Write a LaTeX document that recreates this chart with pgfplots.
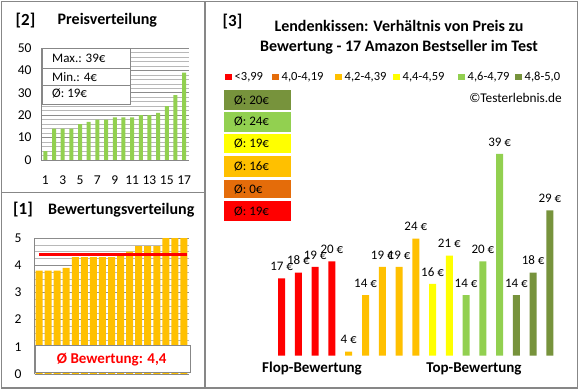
\documentclass[border=0pt]{standalone}
\usepackage{fontspec}
\setmainfont{Carlito}
\usepackage{pgfplots}
\pgfplotsset{compat=1.18}
\definecolor{cRed}{HTML}{FF0000}
\definecolor{cDOrange}{HTML}{E46C0A}
\definecolor{cOrange}{HTML}{FFC000}
\definecolor{cYellow}{HTML}{FFFF00}
\definecolor{cGreen}{HTML}{92D050}
\definecolor{cOlive}{HTML}{77933C}
\definecolor{frame}{HTML}{878787}
\definecolor{gmaj}{HTML}{8C8C8C}
\definecolor{gmin}{HTML}{B8B8B8}
\begin{document}
\begin{tikzpicture}[x=1pt,y=1pt]
\useasboundingbox (0,0) rectangle (580,390);
\fill[white] (0,0) rectangle (580,390);
% ---------- panel [2]
\node[inner sep=0, anchor=west, font=\fontsize{17}{20}\selectfont\bfseries] at (15.5,369.3) {[2]};
\node[inner sep=0, anchor=west, font=\fontsize{16}{19}\selectfont\bfseries] at (57.5,369.3) {Preisverteilung};
\begin{axis}[at={(41pt,230pt)}, anchor=south west, scale only axis,
  width=147.5pt, height=112pt,
  xmin=0.5, xmax=17.5, ymin=0, ymax=50,
  xtick={1,3,...,17}, ytick={0,10,...,50}, minor y tick num=4,
  ymajorgrids, yminorgrids,
  major grid style={gmaj, line width=0.6pt},
  minor grid style={gmin, line width=0.6pt},
  axis x line*=bottom, axis y line*=left,
  axis line style={frame, -},
  major tick length=0pt, minor tick length=0pt,
  /pgf/number format/assume math mode=true,
  tick label style={font=\fontsize{13.5}{15}\selectfont},
  xticklabel style={yshift=-12pt},
  yticklabel style={xshift=-6pt}]
\addplot[ybar, bar width=4pt, bar shift=0pt, fill=cGreen, draw=none] coordinates {
(1,4) (2,14) (3,14) (4,14) (5,16) (6,17) (7,18) (8,18) (9,19) (10,19) (11,19) (12,20) (13,20) (14,21) (15,24) (16,29) (17,39)};
\end{axis}
\draw[frame, fill=white, line width=0.8pt] (42,341.3) rectangle (130,286);
\draw[frame, line width=0.8pt] (42,322) -- (130,322);
\draw[frame, line width=0.8pt] (42,305) -- (130,305);
\node[inner sep=0, anchor=west, font=\fontsize{13}{15}\selectfont] at (52,332) {Max.: 39€};
\node[inner sep=0, anchor=west, font=\fontsize{13}{15}\selectfont] at (52,313) {Min.: 4€};
\node[inner sep=0, anchor=west, font=\fontsize{13}{15}\selectfont] at (52,296.3) {Ø: 19€};
% ---------- panel [1]
\node[inner sep=0, anchor=west, font=\fontsize{17}{20}\selectfont\bfseries] at (13,180) {[1]};
\node[inner sep=0, anchor=west, font=\fontsize{16}{19}\selectfont\bfseries] at (48,179.3) {Bewertungsverteilung};
\begin{axis}[at={(34.5pt,16pt)}, anchor=south west, scale only axis,
  width=154pt, height=136pt,
  xmin=0.5, xmax=17.5, ymin=0, ymax=5,
  xtick=\empty, ytick={0,1,...,5}, minor y tick num=3,
  ymajorgrids, yminorgrids,
  major grid style={gmaj, line width=0.6pt},
  minor grid style={gmin, line width=0.6pt},
  axis x line*=bottom, axis y line*=left,
  axis line style={frame, -},
  major tick length=0pt, minor tick length=0pt,
  /pgf/number format/assume math mode=true,
  tick label style={font=\fontsize{13.5}{15}\selectfont},
  yticklabel style={xshift=-9.5pt}]
\addplot[ybar, bar width=7pt, bar shift=0pt, fill=cOrange, draw=none] coordinates {
(1,3.8) (2,3.8) (3,3.8) (4,3.9) (5,4.3) (6,4.3) (7,4.3) (8,4.3) (9,4.3) (10,4.4) (11,4.5) (12,4.7) (13,4.7) (14,4.7) (15,5.0) (16,5.0) (17,5.0)};
\addplot[cRed, line width=3.5pt] coordinates {(1,4.4) (17.3,4.4)};
\end{axis}
\draw[frame, fill=white, line width=0.8pt] (35,44.3) rectangle (190.7,17.3);
\node[font=\fontsize{15}{18}\selectfont\bfseries, text=cRed] at (111.7,30.7) {Ø Bewertung: 4,4};
% ---------- panel [3]
\node[inner sep=0, anchor=west, font=\fontsize{17}{20}\selectfont\bfseries] at (222.5,368) {[3]};
\node[inner sep=0, align=center, font=\fontsize{16}{20}\selectfont\bfseries] at (399,353) {Lendenkissen: Verhältnis von Preis zu\\Bewertung - 17 Amazon Bestseller im Test};
% legend
\begin{scope}[every node/.style={inner sep=0, anchor=west, font=\fontsize{12.5}{14}\selectfont}]
\fill[cRed] (225,309.5) rectangle (231.7,316);      \node at (234.5,312.5) {<3,99};
\fill[cDOrange] (272,309.5) rectangle (278.7,316);  \node at (281.5,312.5) {4,0-4,19};
\fill[cOrange] (335,309.5) rectangle (341.7,316);   \node at (344.5,312.5) {4,2-4,39};
\fill[cYellow] (393,309.5) rectangle (399.7,316);   \node at (402.5,312.5) {4,4-4,59};
\fill[cGreen] (458,309.5) rectangle (464.7,316);    \node at (467.5,312.5) {4,6-4,79};
\fill[cOlive] (515,309.5) rectangle (521.7,316);    \node at (524.5,312.5) {4,8-5,0};
\end{scope}
\node[inner sep=0, anchor=east, font=\fontsize{13.3}{15}\selectfont] at (562,291.7) {©Testerlebnis.de};
% average boxes
\begin{scope}[every node/.style={inner sep=0, anchor=west, font=\fontsize{13}{15}\selectfont}]
\fill[cOlive] (223.5,300) rectangle (291,280);     \node at (234,290) {Ø: 20€};
\fill[cGreen] (223.5,278.3) rectangle (291,258.3); \node at (234,268.3) {Ø: 24€};
\fill[cYellow] (223.5,255.7) rectangle (291,236.7);\node at (234,246.2) {Ø: 19€};
\fill[cOrange] (223.5,234) rectangle (291,213.3);  \node at (234,223.6) {Ø: 16€};
\fill[cDOrange] (223.5,210) rectangle (291,191.7); \node at (234,200.8) {Ø: 0€};
\fill[cRed] (223.5,189) rectangle (291,169);       \node at (234,179) {Ø: 19€};
\end{scope}
\begin{axis}[at={(273.3pt,34.3pt)}, anchor=south west, scale only axis,
  width=285pt, height=235.6pt,
  xmin=0.5, xmax=17.5, ymin=3.3, ymax=45,
  axis lines=none, xtick=\empty, ytick=\empty,
  point meta=explicit symbolic,
  nodes near coords,
  nodes near coords style={font=\fontsize{13}{15}\selectfont, text=black, anchor=south, yshift=4.2pt}]
\addplot[ybar, bar width=7pt, bar shift=0pt, fill=cRed, draw=none] coordinates {
(1,17) [17 €] (2,18) [18 €] (3,19) [19 €] (4,20) [20 €]};
\addplot[ybar, bar width=7pt, bar shift=0pt, fill=cOrange, draw=none] coordinates {
(5,4) [4 €] (6,14) [14 €] (7,19) [19 €] (8,19) [19 €] (9,24) [24 €]};
\addplot[ybar, bar width=7pt, bar shift=0pt, fill=cYellow, draw=none] coordinates {
(10,16) [16 €] (11,21) [21 €]};
\addplot[ybar, bar width=7pt, bar shift=0pt, fill=cGreen, draw=none] coordinates {
(12,14) [14 €] (13,20) [20 €] (14,39) [39 €]};
\addplot[ybar, bar width=7pt, bar shift=0pt, fill=cOlive, draw=none] coordinates {
(15,14) [14 €] (16,18) [18 €] (17,29) [29 €]};
\end{axis}
\node[font=\fontsize{15}{18}\selectfont\bfseries] at (312,21) {Flop-Bewertung};
\node[font=\fontsize{15}{18}\selectfont\bfseries] at (474,21) {Top-Bewertung};
% ---------- frames
\draw[frame, line width=1.2pt] (1.5,2) rectangle (577.5,388.5);
\draw[frame, line width=1.2pt] (205,2) -- (205,388.5);
\draw[frame, line width=1.2pt] (1.5,197.5) -- (205,197.5);
\end{tikzpicture}
\end{document}
